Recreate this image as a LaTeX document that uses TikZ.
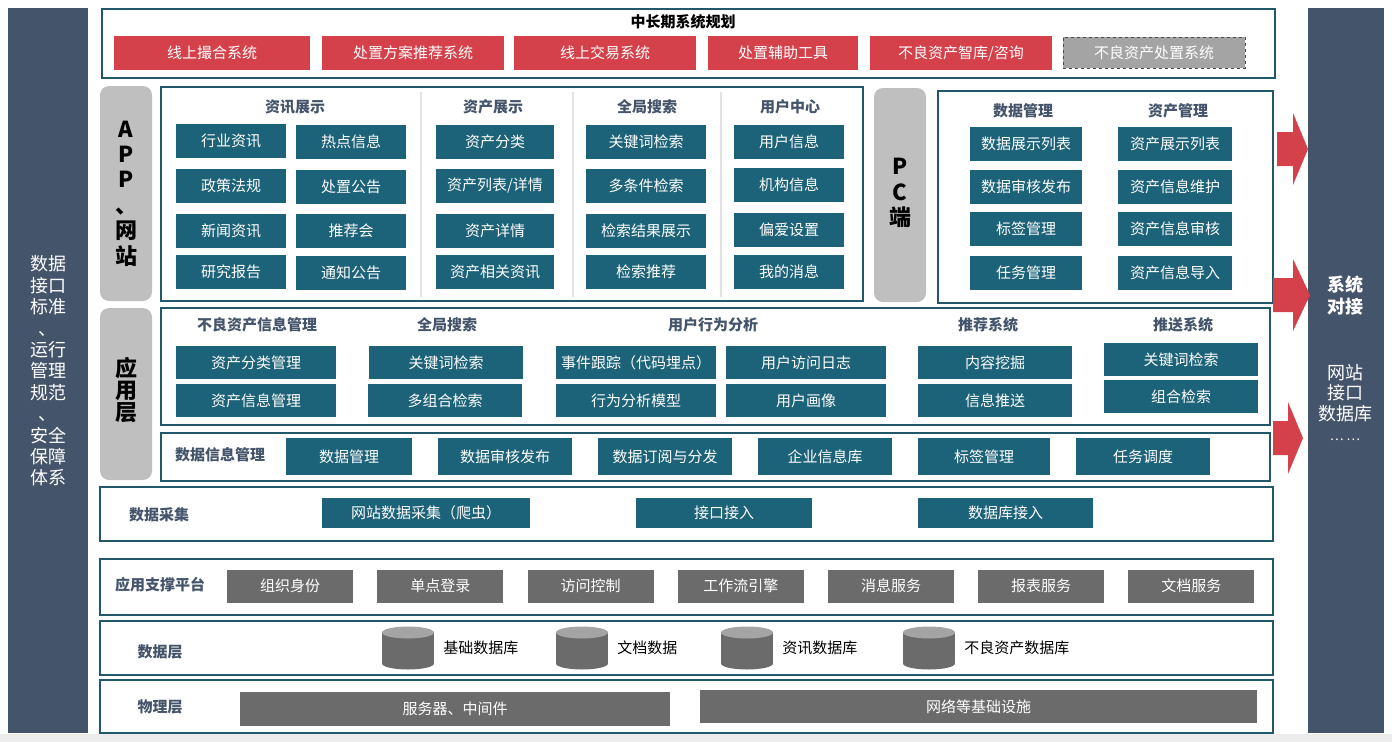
\documentclass[tikz,border=0pt]{standalone}
\usepackage{fontspec}
\setmainfont{Noto Sans CJK SC}
\usetikzlibrary{positioning,fit}

\definecolor{barslate}{HTML}{44546A}
\definecolor{boxteal}{HTML}{1C6278}
\definecolor{frameteal}{HTML}{22596A}
\definecolor{boxred}{HTML}{D5414B}
\definecolor{boxgray}{HTML}{6B6B6B}
\definecolor{sidegray}{HTML}{BFBFBF}
\definecolor{sepgray}{HTML}{E2E2E2}
\definecolor{cyltop}{HTML}{A4A4A4}
\definecolor{bggray}{HTML}{ECECEC}

\newcommand{\fsz}[2]{\fontsize{#1}{#2}\selectfont}
\newcommand{\panel}[5]{\node[frame,fit={(#2,#3) (#4,#5)}] (#1) {};}
\newcommand{\blockarrow}[4]{%
  \fill[boxred] (#1,#4-17) -- (#2,#4-17) -- (#2,#4-36) -- (#3,#4)
    -- (#2,#4+36) -- (#2,#4+17) -- (#1,#4+17) -- cycle;}
\newcommand{\dbcyl}[3]{%
  \node[inner sep=0pt,minimum width=52,minimum height=43] (#1) at (#2,#3) {};%
  \fill[boxgray] (#2-26,#3-15.5) rectangle (#2+26,#3+15.5);%
  \fill[boxgray] (#2,#3+15.5) ellipse[x radius=26,y radius=6];%
  \fill[cyltop] (#2,#3-15.5) ellipse[x radius=26,y radius=6];}

\tikzset{
  frame/.style={draw=frameteal,line width=2pt,inner sep=0pt},
  tbox/.style={fill=boxteal,text=white,minimum height=34,inner sep=0pt,font=\fsz{15}{18}},
  rbox/.style={fill=boxred,text=white,minimum height=34,inner sep=0pt,font=\fsz{15}{18}},
  dbox/.style={fill=cyltop,draw=black!70,dashed,line width=1pt,text=white,inner sep=0pt,font=\fsz{15}{18}},
  gbox/.style={fill=boxgray,text=white,minimum width=126,minimum height=33,inner sep=0pt,font=\fsz{15}{18}},
  head/.style={text=barslate,inner sep=0pt,font=\bfseries\fsz{15}{18}},
  sidebox/.style={fill=sidegray,rounded corners=9pt,inner sep=0pt},
  sidetxt/.style={align=center,inner sep=0pt,font=\bfseries\fsz{22}{25.4}},
  bar/.style={fill=barslate,inner sep=0pt},
  bartxt/.style={align=center,text=white,inner sep=0pt,font=\fsz{18}{21.4}},
  dblabel/.style={inner sep=0pt,font=\fsz{15}{18}}
}

\begin{document}
\begin{tikzpicture}[x=1pt,y=-1pt]
  \useasboundingbox (0,0) rectangle (1392,742);
  \fill[bggray] (0,734) rectangle (1392,742);

  % side bars
  \node[bar,fit={(8,8) (88,733)}] (lbar) {};
  \node[bartxt] (lbartxt) at (48,371)
    {数据\\接口\\标准\\、\\运行\\管理\\规范\\、\\安全\\保障\\体系};
  \node[bar,fit={(1308,8) (1384,733)}] (rbar) {};
  \node[bartxt,font=\bfseries\fsz{18}{22}] (rbartxt1) at (1345,296) {系统\\对接};
  \node[bartxt,font=\fsz{18}{20.5}] (rbartxt2) at (1345,393) {网站\\接口\\数据库};
  \node[bartxt,font=\fsz{13}{14}] (rbartxt3) at (1345,440) {…\ …};

  % long term planning
  \panel{plan}{102}{9}{1275}{78}
  \node[head,text=black] (plantitle) at (683,22) {中长期系统规划};
  \foreach \txt/\x/\w [count=\i] in {线上撮合系统/212/196, 处置方案推荐系统/413/182,
      线上交易系统/605/182, 处置辅助工具/783/150, {不良资产智库/咨询}/961/182}
    \node[rbox,minimum width=\w] (plan\i) at (\x,53) {\txt};
  \node[dbox,minimum width=182,minimum height=31] (plan6) at (1154,52.5) {不良资产处置系统};

  % APP / website
  \node[sidebox,fit={(100,86) (152,301)}] (appside) {};
  \node[sidetxt] (apptxt) at (126,193.5) {A\\P\\P\\、\\网\\站};
  \panel{app}{161}{87}{863}{301}
  \foreach \x in {421,573,721}
    \draw[sepgray,line width=1.5pt] (\x,92) -- (\x,297);
  \foreach \txt/\x [count=\i] in {资讯展示/295, 资产展示/493, 全局搜索/647, 用户中心/790}
    \node[head] (apph\i) at (\x,107) {\txt};
  \foreach \txt/\y [count=\i] in {行业资讯/141, 政策法规/186, 新闻资讯/231, 研究报告/272}
    \node[tbox,minimum width=110] (zxa\i) at (231,\y) {\txt};
  \foreach \txt/\y [count=\i] in {热点信息/142, 处置公告/187, 推荐会/231, 通知公告/273}
    \node[tbox,minimum width=110] (zxb\i) at (351,\y) {\txt};
  \foreach \txt/\y [count=\i] in {资产分类/142, {资产列表/详情}/186, 资产详情/231, 资产相关资讯/272}
    \node[tbox,minimum width=118] (zc\i) at (495,\y) {\txt};
  \foreach \txt/\y [count=\i] in {关键词检索/142, 多条件检索/186, 检索结果展示/231, 检索推荐/272}
    \node[tbox,minimum width=120] (ss\i) at (646,\y) {\txt};
  \foreach \txt/\y [count=\i] in {用户信息/142, 机构信息/185, 偏爱设置/230, 我的消息/272}
    \node[tbox,minimum width=110] (yh\i) at (789,\y) {\txt};

  % PC
  \node[sidebox,fit={(874,88) (926,302)}] (pcside) {};
  \node[sidetxt] (pctxt) at (900,193) {P\\C\\端};
  \panel{pc}{938}{91}{1273}{303}
  \node[head] (pch1) at (1023,111) {数据管理};
  \node[head] (pch2) at (1178,111) {资产管理};
  \foreach \txt/\y [count=\i] in {数据展示列表/144, 数据审核发布/186.5, 标签管理/229, 任务管理/272.5}
    \node[tbox,minimum width=112] (pca\i) at (1026,\y) {\txt};
  \foreach \txt/\y [count=\i] in {资产展示列表/144, 资产信息维护/186.5, 资产信息审核/229, 资产信息导入/272.5}
    \node[tbox,minimum width=114] (pcb\i) at (1175,\y) {\txt};

  % arrows to the right bar
  \blockarrow{1277}{1293}{1308}{149}
  \blockarrow{1273}{1293}{1310}{295}
  \blockarrow{1273}{1288}{1303}{438}

  % application layer
  \node[sidebox,fit={(100,308) (152,480)}] (funcside) {};
  \node[sidetxt,font=\bfseries\fsz{22}{22}] (functxt) at (126,390) {应\\用\\层};
  \panel{func}{161}{308}{1270}{425}
  \foreach \txt/\x [count=\i] in {不良资产信息管理/257, 全局搜索/447, 用户行为分析/713,
      推荐系统/988, 推送系统/1183}
    \node[head] (funch\i) at (\x,325) {\txt};
  \foreach \txt/\x/\y [count=\i] in {资产分类管理/256/362.5, 资产信息管理/256/400.5,
      事件跟踪（代码埋点）/636/362.5, 行为分析模型/636/400.5,
      用户访问日志/806/362.5, 用户画像/806/400.5}
    \node[tbox,minimum width=160,minimum height=33] (fa\i) at (\x,\y) {\txt};
  \foreach \txt/\x/\y [count=\i] in {关键词检索/446/362.5, 多组合检索/445/400.5,
      内容挖掘/995/362.5, 信息推送/995/400.5,
      关键词检索/1181/359.5, 组合检索/1181/396.5}
    \node[tbox,minimum width=154,minimum height=33] (fb\i) at (\x,\y) {\txt};

  % data information management
  \panel{dim}{161}{433}{1270}{481}
  \node[head,anchor=west] (dimlab) at (175,455) {数据信息管理};
  \foreach \txt/\x/\w [count=\i] in {数据管理/349/126, 数据审核发布/505/134,
      数据订阅与分发/665/134, 企业信息库/825/134, 标签管理/984/132, 任务调度/1143/134}
    \node[tbox,minimum width=\w,minimum height=37] (dm\i) at (\x,456.5) {\txt};

  % data collection
  \panel{coll}{100}{487}{1273}{541}
  \node[head] (colllab) at (159,515) {数据采集};
  \foreach \txt/\x/\w [count=\i] in {网站数据采集（爬虫）/426/208, 接口接入/724/176,
      数据库接入/1005.5/175}
    \node[tbox,minimum width=\w,minimum height=30] (cj\i) at (\x,513) {\txt};

  % support platform
  \panel{supp}{100}{559}{1273}{615}
  \node[head] (supplab) at (160,585) {应用支撑平台};
  \foreach \txt [count=\i] in {组织身份, 单点登录, 访问控制, 工作流引擎, 消息服务,
      报表服务, 文档服务}
    \node[gbox] (sp\i) at ({140+150.2*\i},586) {\txt};

  % data layer
  \panel{data}{100}{621}{1273}{675}
  \node[head] (datalab) at (160,652) {数据层};
  \foreach \txt/\x [count=\i] in {基础数据库/408, 文档数据/582, 资讯数据库/747,
      不良资产数据库/929}{
    \dbcyl{db\i}{\x}{648}
    \node[dblabel,right=9pt of db\i] (dbl\i) {\txt};
  }

  % physical layer
  \panel{phys}{100}{680}{1273}{733}
  \node[head] (physlab) at (160,707) {物理层};
  \node[gbox,minimum width=430,minimum height=34] (ph1) at (455,709) {服务器、中间件};
  \node[gbox,minimum width=557,minimum height=33] (ph2) at (978.5,706.5) {网络等基础设施};
\end{tikzpicture}
\end{document}
